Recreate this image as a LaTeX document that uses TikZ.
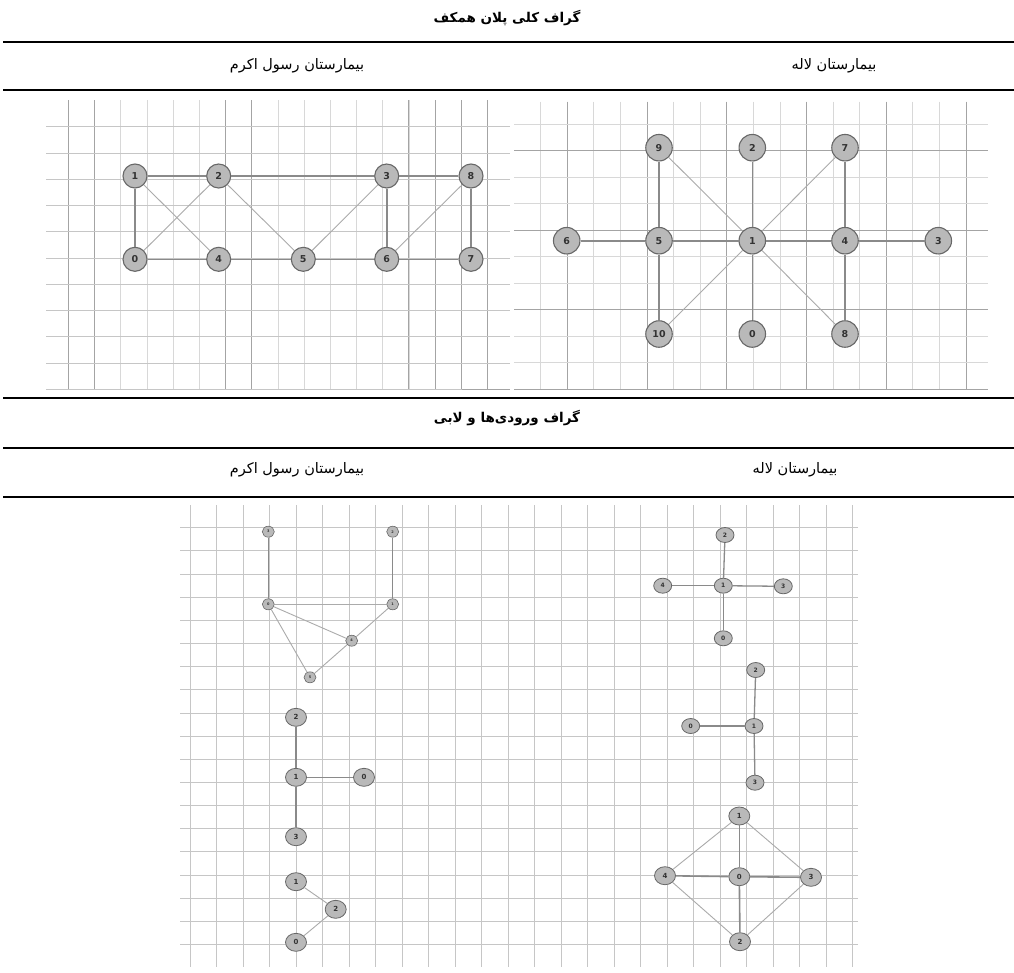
\documentclass[tikz,border=0pt]{standalone}
\usepackage{fontspec}
\usetikzlibrary{shapes.geometric}
\TeXXeTstate=1
\newfontfamily\arabicfont[Script=Arabic]{DejaVu Sans}
\newfontfamily\numfont{DejaVu Sans}
\definecolor{gridl}{HTML}{D8D8D8}
\definecolor{gridm}{HTML}{C6C6C6}
\definecolor{gridd}{HTML}{A4A4A4}
\definecolor{nodefill}{HTML}{B9B9B9}
\definecolor{nodeline}{HTML}{686868}
\definecolor{edged}{HTML}{8A8A8A}
\definecolor{edgel}{HTML}{ABABAB}
\definecolor{numcol}{HTML}{333333}
\tikzset{
  sepline/.style={line width=2.4pt, black},
  gl/.style={gridl, line width=0.8pt},
  gm/.style={gridm, line width=0.8pt},
  gd/.style={gridd, line width=0.9pt},
  vtxA/.style={circle, draw=nodeline, fill=nodefill, line width=1.1pt, minimum size=24pt, inner sep=0pt, text=numcol, font=\numfont\bfseries\fontsize{9.5}{9.5}\selectfont},
  vtxB/.style={vtxA, minimum size=26.5pt},
  vtxS/.style={ellipse, draw=nodeline, fill=nodefill, line width=0.8pt, minimum width=18pt, minimum height=15pt, inner sep=0pt, text=numcol, font=\numfont\bfseries\fontsize{6}{6}\selectfont},
  vtxM/.style={vtxS, minimum width=21pt, minimum height=18pt, font=\numfont\bfseries\fontsize{7}{7}\selectfont},
  vtxT/.style={vtxS, minimum width=12pt, minimum height=11pt, line width=0.6pt, font=\numfont\bfseries\fontsize{3.5}{3.5}\selectfont},
  ed/.style={edged, line width=1.6pt},
  el/.style={edgel, line width=0.9pt},
  ttl/.style={inner sep=0pt, font=\arabicfont\bfseries\fontsize{13.5}{15}\selectfont},
  hdr/.style={inner sep=0pt, font=\arabicfont\fontsize{14.5}{16}\selectfont},
}
\begin{document}
\begin{tikzpicture}[x=1pt,y=-1pt]
\useasboundingbox (0,0) rectangle (1014,972);
\fill[white] (0,0) rectangle (1014,972);

% ---------- headings and rules ----------
\node[ttl] (t1) at (507,18) {\beginR گراف کلی پلان همکف\endR};
\node[hdr] (h1l) at (297,66) {\beginR بیمارستان رسول اکرم\endR};
\node[hdr] (h1r) at (834,66) {\beginR بیمارستان لاله\endR};
\node[ttl] (t2) at (507,418) {\beginR گراف ورودی‌ها و لابی\endR};
\node[hdr] (h2l) at (297,470) {\beginR بیمارستان رسول اکرم\endR};
\node[hdr] (h2r) at (795,470) {\beginR بیمارستان لاله\endR};
\foreach \yy in {42,90,398,448,497} \draw[sepline] (3,\yy) -- (1014,\yy);

% ---------- grid top-left ----------
\foreach \i in {0,...,16} \draw[gl] ({68.3+26.2*\i},100) -- ({68.3+26.2*\i},390);
\foreach \i in {0,1,6,7,13,14,15,16} \draw[gd] ({68.3+26.2*\i},100) -- ({68.3+26.2*\i},390);
\foreach \i in {0,...,10} \draw[gm] (46,{126.7+26.26*\i}) -- (510,{126.7+26.26*\i});
\draw[gd] (461.7,389.5) -- (510,389.5);

% ---------- grid top-right ----------
\foreach \i in {0,...,16} \draw[gl] ({540.7+26.58*\i},101.7) -- ({540.7+26.58*\i},390);
\foreach \i in {1,4,7,10,13,16} \draw[gd] ({540.7+26.58*\i},101.7) -- ({540.7+26.58*\i},390);
\foreach \i in {0,...,10} \draw[gl] (514,{124.3+26.5*\i}) -- (988,{124.3+26.5*\i});
\foreach \i in {1,4,7,10} \draw[gd] (514,{124.3+26.5*\i}) -- (988,{124.3+26.5*\i});

% ---------- grid bottom ----------
\foreach \i in {0,...,25} \draw[gm] ({190+26.51*\i},505) -- ({190+26.51*\i},967);
\foreach \i in {0,...,18} \draw[gm] (180,{527.7+23.15*\i}) -- (858,{527.7+23.15*\i});

% ---------- top-left graph ----------
\node[vtxA] (L1) at (135,176) {1};
\node[vtxA] (L2) at (218.7,176) {2};
\node[vtxA] (L3) at (386.7,176) {3};
\node[vtxA] (L8) at (471,176) {8};
\node[vtxA] (L0) at (135,259.3) {0};
\node[vtxA] (L4) at (218.7,259.3) {4};
\node[vtxA] (L5) at (303.3,259.3) {5};
\node[vtxA] (L6) at (386.7,259.3) {6};
\node[vtxA] (L7) at (471,259.3) {7};
\foreach \a/\b in {L1/L2,L2/L3,L3/L8,L1/L0,L3/L6,L8/L7,L0/L4,L4/L5,L5/L6,L6/L7}
  \draw[ed] (\a) -- (\b);
\foreach \a/\b in {L1/L4,L2/L0,L2/L5,L3/L5,L8/L6}
  \draw[el] (\a) -- (\b);

% ---------- top-right graph ----------
\node[vtxB] (R9) at (659,147.7) {9};
\node[vtxB] (R2) at (752.3,147.7) {2};
\node[vtxB] (R7) at (845,147.7) {7};
\node[vtxB] (R6) at (566.7,240.7) {6};
\node[vtxB] (R5) at (659,240.7) {5};
\node[vtxB] (R1) at (752.3,240.7) {1};
\node[vtxB] (R4) at (845,240.7) {4};
\node[vtxB] (R3) at (938.3,240.7) {3};
\node[vtxB] (R10) at (659,334) {10};
\node[vtxB] (R0) at (752.3,334) {0};
\node[vtxB] (R8) at (845,334) {8};
\foreach \a/\b in {R9/R5,R2/R1,R7/R4,R6/R5,R5/R1,R1/R4,R4/R3,R5/R10,R1/R0,R4/R8}
  \draw[ed] (\a) -- (\b);
\foreach \a/\b in {R9/R1,R7/R1,R10/R1,R1/R8}
  \draw[el] (\a) -- (\b);

% ---------- bottom-left graphs ----------
\node[vtxT] (a3) at (268.3,531.7) {3};
\node[vtxT] (a2) at (392.7,531.7) {2};
\node[vtxT] (a0) at (268.3,604.3) {0};
\node[vtxT] (a1) at (392.7,604.3) {1};
\node[vtxT] (a4) at (351.7,640.7) {4};
\node[vtxT] (a5) at (310,677.3) {5};
\foreach \a/\b in {a3/a0,a2/a1} \draw[ed, line width=1.2pt] (\a) -- (\b);
\foreach \a/\b in {a0/a1,a0/a4,a0/a5,a1/a4,a4/a5} \draw[el] (\a) -- (\b);

\node[vtxM] (b2) at (296,717.3) {2};
\node[vtxM] (b1) at (296,777.3) {1};
\node[vtxM] (b0) at (364,777.3) {0};
\node[vtxM] (b3) at (296,836.7) {3};
\foreach \a/\b in {b2/b1,b1/b0,b1/b3} \draw[ed] (\a) -- (\b);

\node[vtxM] (c1) at (296,881.7) {1};
\node[vtxM] (c2) at (335.7,909.3) {2};
\node[vtxM] (c0) at (296,942.3) {0};
\foreach \a/\b in {c1/c2,c2/c0} \draw[el] (\a) -- (\b);

% ---------- bottom-right graphs ----------
\node[vtxS] (d2) at (725,535) {2};
\node[vtxS] (d4) at (662.7,585.7) {4};
\node[vtxS] (d1) at (723.3,585.7) {1};
\node[vtxS] (d3) at (783.3,586.3) {3};
\node[vtxS] (d0) at (723.3,638.3) {0};
\foreach \a/\b in {d2/d1,d4/d1,d1/d3,d1/d0} \draw[ed, line width=1.3pt] (\a) -- (\b);

\node[vtxS] (e2) at (755.7,670) {2};
\node[vtxS] (e0) at (690.7,726) {0};
\node[vtxS] (e1) at (754,726) {1};
\node[vtxS] (e3) at (755,782.7) {3};
\foreach \a/\b in {e2/e1,e0/e1,e1/e3} \draw[ed, line width=1.3pt] (\a) -- (\b);

\node[vtxM] (f1) at (739.3,816) {1};
\node[vtxM] (f4) at (665,875.7) {4};
\node[vtxM] (f0) at (739.3,876.7) {0};
\node[vtxM] (f3) at (811,877.3) {3};
\node[vtxM] (f2) at (740,941.7) {2};
\foreach \a/\b in {f1/f0,f4/f0,f0/f3,f0/f2} \draw[ed] (\a) -- (\b);
\foreach \a/\b in {f1/f4,f1/f3,f4/f2,f3/f2} \draw[el] (\a) -- (\b);
\end{tikzpicture}
\end{document}
